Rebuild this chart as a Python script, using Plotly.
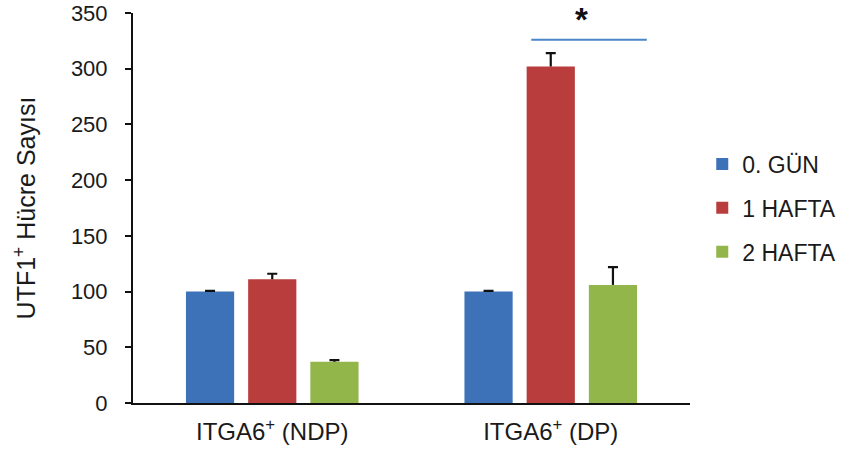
import plotly.graph_objects as go

# Groups on the x axis and the three time points
groups = ["ITGA6<sup>+</sup> (NDP)", "ITGA6<sup>+</sup> (DP)"]
series = ["0. GÜN", "1 HAFTA", "2 HAFTA"]

# Mean UTF1+ cell counts and standard errors per time point
day0_vals = [100, 100]
week1_vals = [111, 302]
week2_vals = [37, 106]
day0_err = [0.6, 0.6]
week1_err = [5, 12]
week2_err = [1.5, 16]

colors = ["#3d71b8", "#b93d3d", "#92b64a"]
values = [day0_vals, week1_vals, week2_vals]
errors = [day0_err, week1_err, week2_err]

FONT = "Liberation Sans, Arial, sans-serif"
INK = "#111111"

fig = go.Figure()
for name, vals, errs, col in zip(series, values, errors, colors):
    # bar with an upward error stem (no caps)
    fig.add_trace(go.Bar(
        x=groups, y=vals, name=name, legendgroup=name, offsetgroup=name,
        marker=dict(color=col, line=dict(width=0)),
        error_y=dict(type="data", array=errs, arrayminus=[0] * len(errs),
                     symmetric=False, color=INK, thickness=2.2, width=0),
    ))
    # transparent bar in the same slot that only carries the top cap
    tops = [v + e for v, e in zip(vals, errs)]
    fig.add_trace(go.Bar(
        x=groups, y=tops, name=name, legendgroup=name, offsetgroup=name,
        showlegend=False, hoverinfo="skip",
        marker=dict(color="rgba(0,0,0,0)", line=dict(width=0)),
        error_y=dict(type="data", array=[0] * len(errs), color=INK,
                     thickness=2.2, width=5),
    ))

# Significance bracket over the DP group
fig.add_shape(type="line", xref="x", yref="y",
              x0=0.93, x1=1.345, y0=326, y1=326,
              line=dict(color="#4a86c8", width=2))
fig.add_annotation(x=1.11, y=1.0, xref="x", yref="paper", text="<b>*</b>",
                   showarrow=False, yanchor="bottom", yshift=-27,
                   font=dict(size=33, color=INK, family=FONT))

fig.update_layout(
    width=856, height=451,
    margin=dict(l=133, r=166, t=13, b=48),
    paper_bgcolor="white", plot_bgcolor="white",
    barmode="group", bargap=0.33, bargroupgap=0.225,
    font=dict(family=FONT, size=22, color="#1a1a1a"),
    showlegend=True,
    legend=dict(x=1.022, xanchor="left", y=0.5, yanchor="middle",
                traceorder="grouped", tracegroupgap=11,
                font=dict(size=23), itemwidth=30,
                bgcolor="rgba(0,0,0,0)"),
    xaxis=dict(range=[-0.5, 1.5], showline=True, linecolor=INK,
               linewidth=2, ticks="", showgrid=False, zeroline=False,
               tickfont=dict(size=24), ticklabelstandoff=6,
               automargin=False),
    yaxis=dict(range=[0, 350], dtick=50, showline=True, linecolor=INK,
               linewidth=2, ticks="outside", ticklen=6, tickwidth=2,
               tickcolor=INK, showgrid=False, zeroline=False,
               tickfont=dict(size=22), ticklabelstandoff=13,
               automargin=False,
               title=dict(text="UTF1<sup>+</sup> Hücre Sayısı",
                          font=dict(size=25), standoff=28)),
)

fig.write_html("out.html")
